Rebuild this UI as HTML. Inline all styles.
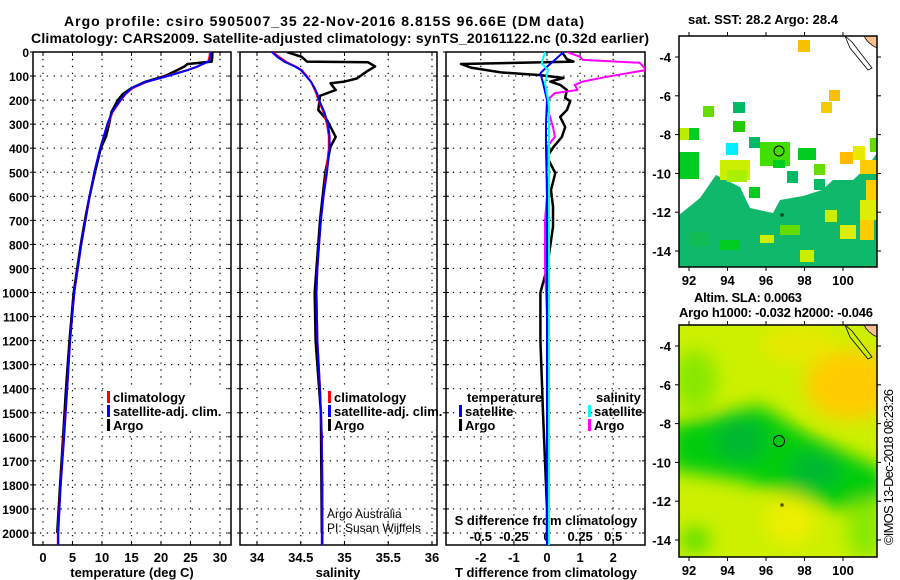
<!DOCTYPE html>
<html><head><meta charset="utf-8"><style>
html,body{margin:0;padding:0;background:#fff;}
svg{display:block;font-family:"Liberation Sans",sans-serif;}
.b{font-weight:bold;}
</style></head><body>
<svg id="chart" width="900" height="580" viewBox="0 0 900 580" xmlns="http://www.w3.org/2000/svg">
<defs>
<clipPath id="c1"><rect x="33" y="52" width="198" height="493"/></clipPath>
<clipPath id="c2"><rect x="240" y="52" width="197" height="493"/></clipPath>
<clipPath id="c3"><rect x="446" y="52" width="199" height="493"/></clipPath>
<clipPath id="cm1"><rect x="679" y="36" width="198" height="231"/></clipPath>
<clipPath id="cm2"><rect x="679" y="325" width="198" height="232"/></clipPath>
<filter id="blur" x="-50%" y="-50%" width="200%" height="200%"><feGaussianBlur stdDeviation="9"/></filter>
</defs>
<text x="324" y="26" text-anchor="middle" class="b" font-size="14" textLength="520">Argo profile: csiro 5905007_35 22-Nov-2016 8.815S 96.66E (DM data)</text>
<text x="340" y="43" text-anchor="middle" class="b" font-size="14" textLength="618">Climatology: CARS2009. Satellite-adjusted climatology: synTS_20161122.nc (0.32d earlier)</text>
<g id="plots"></g>
<g id="maps"></g>
<text transform="translate(893,545) rotate(-90)" font-size="13" textLength="156">©IMOS 13-Dec-2018 08:23:26</text>
</svg>
<script>
// ---- data ----
const depthsClim = [0,20,40,50,60,75,100,125,150,175,200,250,300,350,400,500,600,700,800,900,1000,1200,1400,1600,1800,2000,2050];
const tempClim   = [28.3,28.2,28.0,27.2,26.3,24.5,21.0,17.5,15.2,14.0,13.2,11.8,11.0,10.3,9.7,8.7,7.9,7.2,6.5,5.9,5.3,4.6,4.1,3.5,3.0,2.5,2.5];
const tempSat    = [28.5,28.4,28.1,27.0,26.2,24.6,21.2,17.3,15.0,13.9,13.1,11.7,10.9,10.3,9.7,8.7,7.9,7.2,6.5,5.9,5.3,4.6,4.1,3.6,3.0,2.6,2.6];
const depthsArgoT = [0,20,40,50,60,75,100,125,150,175,200,250,300,350,400,500,600,700,800,1000,1200,1400,1600,1800,2000];
const tempArgo   = [28.7,28.7,28.6,24.5,24.0,22.8,20.7,17.2,15.0,13.5,12.7,11.6,11.2,10.7,9.8,8.8,7.9,7.1,6.4,5.2,4.5,3.9,3.4,2.9,2.4];
const salClim    = [34.18,34.25,34.33,34.38,34.44,34.51,34.57,34.62,34.65,34.68,34.70,34.76,34.80,34.82,34.82,34.79,34.76,34.73,34.71,34.69,34.68,34.69,34.72,34.74,34.75,34.75,34.75];
const salSat     = [34.17,34.23,34.31,34.37,34.43,34.50,34.56,34.62,34.66,34.69,34.71,34.77,34.81,34.83,34.83,34.80,34.76,34.73,34.71,34.69,34.68,34.69,34.72,34.74,34.74,34.74,34.74];
const depthsArgoS = [0,20,40,43,60,80,110,123,130,158,182,241,283,353,394,500,700,1000,1200,1500,2000];
const salArgo    = [34.34,34.51,34.57,35.27,35.35,35.26,35.14,35.0,34.84,34.90,34.72,34.70,34.80,34.90,34.84,34.78,34.72,34.66,34.67,34.73,34.74];
const depthsDT = [0,30,40,50,65,85,96,108,123,137,158,191,205,241,270,312,353,394,436,503,574,643,727,900,1000,1200,1500,1900,2000];
const tDiffArgo = [0.45,0.6,0.8,-2.6,-2.3,-1.4,-0.2,0.5,0.1,0.4,0.6,0.55,0.7,0.6,0.4,0.55,0.45,0.2,0.0,0.25,0.12,0.18,0.18,0.0,-0.2,-0.2,-0.12,0.0,0.0];
const depthsDTs = [0,33,61,88,128,200,300,400,600,1000,1500,2050];
const tDiffSat  = [0.5,0.24,0,-0.2,-0.12,0,-0.03,-0.03,0,0,0,0];
const depthsDS = [0,20,33,45,75,103,123,137,158,171,200,228,312,353,394,500,700,900,1200,1500,2050];
const sDiffArgo = [0.15,0.25,0.27,0.70,0.75,0.45,0.27,0.21,0.23,0.06,0,0,0.045,0.06,0,0.015,-0.015,-0.015,0.008,0.015,0.015];
const depthsDSs = [0,47,75,128,200,228,400,1000,2050];
const sDiffSat  = [-0.015,-0.04,0.008,-0.015,0.008,0.015,0.015,0.015,0.015];
const depthTicks = [0,100,200,300,400,500,600,700,800,900,1000,1100,1200,1300,1400,1500,1600,1700,1800,1900,2000];
const tempTicks = [0,5,10,15,20,25,30];
const salTicks = [34,34.5,35,35.5,36];
const tdTicks = [-2,-1,0,1,2];
const sdTicks = [-0.5,-0.25,0,0.25,0.5];
const sdTickLabels = ["-0.5","-0.25","0","0.25","0.5"];

// ---- helpers ----
const NS="http://www.w3.org/2000/svg";
function mk(tag, attrs, parent){const e=document.createElementNS(NS,tag);for(const k in attrs)e.setAttribute(k,attrs[k]);parent.appendChild(e);return e;}
const yD = d => 52 + d*0.2405;
const xT = t => 43 + t*5.9;
const xS = s => 257 + (s-34)*87.5;
const xDT = t => 547 + t*33.1;
const xDS = s => 547 + s*4*33.1;
const G = document.getElementById('plots');

function frame(x0,x1,name,ticksX,fx){
  const g=mk('g',{},G);
  
  
  depthTicks.forEach(d=>{ if(d>0) mk('line',{x1:x0,x2:x1,y1:yD(d),y2:yD(d),stroke:'#000','stroke-width':1.2,'stroke-dasharray':'1.3,5.6'},g);
    mk('line',{x1:x0-3,x2:x0+3,y1:yD(d),y2:yD(d),stroke:'#000'},g);
    mk('line',{x1:x1-3,x2:x1,y1:yD(d),y2:yD(d),stroke:'#000'},g);});
  ticksX.forEach(t=>{const x=fx(t); mk('line',{x1:x,x2:x,y1:52,y2:545,stroke:'#000','stroke-width':1.2,'stroke-dasharray':'1.3,5.6'},g);
    mk('line',{x1:x,x2:x,y1:545,y2:541,stroke:'#000'},g); mk('line',{x1:x,x2:x,y1:52,y2:56,stroke:'#000'},g);});
  mk('rect',{x:x0,y:52,width:x1-x0,height:493,fill:'none',stroke:'#000','stroke-width':1.5},g);
  return g;
}
function line(xs,ds,fx,color,w,clip,name){
  const p=mk('polyline',{points:xs.map((v,i)=>fx(v).toFixed(1)+','+yD(ds[i]).toFixed(1)).join(' '),fill:'none',stroke:color,'stroke-width':w,'clip-path':'url(#'+clip+')','stroke-linejoin':'round'},G);
  
  
}
function txt(x,y,s,opts,name){const t=mk('text',Object.assign({x:x,y:y,'font-size':13,'font-weight':'bold'},opts||{}),G);t.textContent=s;
  
  return t;}

frame(33,231,'temperature-panel',tempTicks,xT);
frame(240,437,'salinity-panel',salTicks,xS);
frame(446,645,'difference-panel',tdTicks,xDT);
depthTicks.forEach(d=>{txt(29,yD(d)+5,String(d),{'text-anchor':'end','font-size':12},'y-tick-label');});
tempTicks.forEach(t=>{txt(xT(t),562,String(t),{'text-anchor':'middle'},'temp-x-tick-label');});
salTicks.forEach(t=>{txt(xS(t),562,String(t),{'text-anchor':'middle'},'sal-x-tick-label');});
tdTicks.forEach(t=>{txt(xDT(t),562,String(t),{'text-anchor':'middle'},'tdiff-x-tick-label');});
sdTicks.forEach((t,i)=>{txt(xDS(t),541,sdTickLabels[i],{'text-anchor':'middle'},'sdiff-tick-label');});
txt(132,577,'temperature (deg C)',{'text-anchor':'middle'},'temp-x-axis-title');
txt(338,577,'salinity',{'text-anchor':'middle'},'sal-x-axis-title');
txt(546,577,'T difference from climatology',{'text-anchor':'middle'},'tdiff-x-axis-title');
txt(546,525,'S difference from climatology',{'text-anchor':'middle'},'sdiff-axis-title');

// series
line(tempArgo,depthsArgoT,xT,'#000',2.5,'c1','temp-argo-line');
line(tempClim,depthsClim,xT,'#f00',2,'c1','temp-clim-line');
line(tempSat,depthsClim,xT,'#00f',2,'c1','temp-sat-line');
line(salArgo,depthsArgoS,xS,'#000',2.5,'c2','sal-argo-line');
line(salClim,depthsClim,xS,'#f00',2,'c2','sal-clim-line');
line(salSat,depthsClim,xS,'#00f',2,'c2','sal-sat-line');
line(tDiffArgo,depthsDT,xDT,'#000',2.5,'c3','tdiff-argo-line');
line(sDiffArgo,depthsDS,xDS,'#f0f',2,'c3','sdiff-argo-line');
line(tDiffSat,depthsDTs,xDT,'#00f',2,'c3','tdiff-sat-line');
line(sDiffSat,depthsDSs,xDS,'#0ff',2,'c3','sdiff-sat-line');

// legends
function leg(x,y,color,label,name){const r=mk('rect',{x:x,y:y-11,width:3,height:12,fill:color},G);
  
  
  const t=txt(x+6,y,label,{},name); return t;}
function legBg(x,y,w,h){mk('rect',{x:x,y:y,width:w,height:h,fill:'#fff'},G);}
legBg(106,387,118,44); legBg(326,387,110,44);
leg(107,402,'#f00','climatology','legend-temp-climatology');
leg(107,416,'#00f','satellite-adj. clim.','legend-temp-satellite');
leg(107,430,'#000','Argo','legend-temp-argo');
leg(328,402,'#f00','climatology','legend-sal-climatology');
leg(328,416,'#00f','satellite-adj. clim.','legend-sal-satellite');
leg(328,430,'#000','Argo','legend-sal-argo');
txt(467,402,'temperature',{},'legend-temperature-heading');
leg(459,416,'#00f','satellite','legend-tdiff-satellite');
leg(459,430,'#000','Argo','legend-tdiff-argo');
txt(596,402,'salinity',{},'legend-salinity-heading');
leg(588,416,'#0ff','satellite','legend-sdiff-satellite');
leg(588,430,'#f0f','Argo','legend-sdiff-argo');
txt(327,518,'Argo Australia',{'font-weight':'normal','font-size':12},'credit-argo-australia');
txt(327,532,'PI: Susan Wijffels',{'font-weight':'normal','font-size':12},'credit-pi');

// ---- maps ----
const lonTicks=[92,94,96,98,100];
const latTicks=[-4,-6,-8,-10,-12,-14];
const M=document.getElementById('maps');
const mxL = lon => 689 + (lon-92)*19.25;
function mapAxes(top,bot,lat4y,name){
  const g=mk('g',{},M);
  
  
  const myL = lat => lat4y + (-4-lat)*19.4;
  mk('rect',{x:679,y:top,width:198,height:bot-top,fill:'none',stroke:'#000','stroke-width':1.5},g);
  lonTicks.forEach(l=>{mk('line',{x1:mxL(l),x2:mxL(l),y1:top,y2:top-4,stroke:'#000'},g);mk('line',{x1:mxL(l),x2:mxL(l),y1:bot,y2:bot+4,stroke:'#000'},g);
    const t=mk('text',{x:mxL(l),y:bot+18,'text-anchor':'middle','font-size':13,'font-weight':'bold'},g);t.textContent=String(l);});
  latTicks.forEach(l=>{mk('line',{x1:679,x2:675,y1:myL(l),y2:myL(l),stroke:'#000'},g);mk('line',{x1:877,x2:881,y1:myL(l),y2:myL(l),stroke:'#000'},g);
    const t=mk('text',{x:671,y:myL(l)+5,'text-anchor':'end','font-size':13,'font-weight':'bold'},g);t.textContent=String(l);});
}
// SST map cells (image-space boxes): x,y,w,h,color
const sstCells=[[798,40,12,12,'#f8c000'],[829,90,11,11,'#f8c000'],[821,102,11,11,'#f0cc00'],[703,106,11,11,'#66dd00'],[733,102,12,11,'#00bb66'],[733,121,12,11,'#22cc00'],[679,128,14,12,'#bbee00'],[689,128,10,12,'#00cc22'],[726,143,12,12,'#00eeff'],[749,137,11,11,'#00bb66'],[760,142,30,24,'#44dd00'],[773,160,12,8,'#00cc22'],[798,148,18,12,'#00cc22'],[840,152,13,12,'#ffbb00'],[853,146,12,14,'#e8e800'],[860,160,17,14,'#ffcc00'],[679,152,20,27,'#00cc22'],[720,160,30,20,'#ccee00'],[727,170,20,12,'#aaee00'],[787,171,11,12,'#00bb66'],[814,164,11,11,'#66dd00'],[814,179,11,11,'#00bb66'],[749,187,11,11,'#00cc22'],[866,180,11,25,'#ffcc00'],[860,200,17,20,'#ddee00'],[870,138,7,14,'#66dd00']];
const sstBand=[[679,215],[700,198],[716,175],[740,187],[750,208],[773,213],[780,200],[803,196],[822,190],[833,180],[853,180],[867,167],[877,153],[877,267],[679,267]];
const sstBlobs=[[780,225,20,10,'#66dd00'],[760,235,14,8,'#ccee00'],[720,240,20,10,'#00cc22'],[840,225,16,14,'#ddee00'],[860,220,14,20,'#ffcc00'],[800,250,14,12,'#ccee00'],[690,232,20,14,'#11bb55'],[825,210,12,12,'#ccee00']];
const g1=mk('g',{'clip-path':'url(#cm1)'},M);


mk('polygon',{points:sstBand.map(p=>p.join(',')).join(' '),fill:'#0fb86a'},g1);
sstBlobs.forEach(b=>{mk('rect',{x:b[0],y:b[1],width:b[2],height:b[3],fill:b[4]},g1);});
sstCells.forEach(c=>{mk('rect',{x:c[0],y:c[1],width:c[2],height:c[3],fill:c[4]},g1);});
mk('path',{d:'M864,36 L877,36 L877,48 Q868,44 864,36Z',fill:'#f8c090',stroke:'#000','stroke-width':0.8},g1);
mk('path',{d:'M845,36 L852,42 L872,68 L868,70 L850,48Z',fill:'#fff',stroke:'#000','stroke-width':0.8},g1);
mk('circle',{cx:779,cy:151,r:5,fill:'none',stroke:'#000','stroke-width':1},g1);
mk('rect',{x:781,y:214,width:2,height:2,fill:'none',stroke:'#000','stroke-width':0.8},g1);
mapAxes(36,267,57,'sst-map');

// SLA map
const g2=mk('g',{'clip-path':'url(#cm2)'},M);


mk('rect',{x:679,y:325,width:198,height:232,fill:'#ccf000'},g2);
const gb=mk('g',{filter:'url(#blur)'},g2);
mk('ellipse',{cx:850,cy:385,rx:45,ry:35,fill:'#ffcc00'},gb);
mk('ellipse',{cx:800,cy:345,rx:40,ry:18,fill:'#e8e800'},gb);
mk('ellipse',{cx:695,cy:380,rx:22,ry:30,fill:'#88e800'},gb);
mk('polygon',{points:'670,425 720,415 760,405 800,430 840,450 885,470 885,500 840,510 790,495 740,480 690,472 670,470',fill:'#00cc11'},gb);
mk('ellipse',{cx:740,cy:440,rx:25,ry:22,fill:'#00b833'},gb);
mk('ellipse',{cx:815,cy:470,rx:25,ry:18,fill:'#00b833'},gb);
mk('ellipse',{cx:790,cy:520,rx:25,ry:25,fill:'#eeee00'},gb);
mk('ellipse',{cx:695,cy:540,rx:15,ry:12,fill:'#55dd00'},gb);
mk('ellipse',{cx:865,cy:530,rx:18,ry:30,fill:'#88e800'},gb);
mk('path',{d:'M864,325 L877,325 L877,337 Q868,333 864,325Z',fill:'#f8c090',stroke:'#000','stroke-width':0.8},g2);
mk('path',{d:'M845,325 L852,331 L872,357 L868,359 L850,337Z',fill:'#ccf000',stroke:'#000','stroke-width':0.8},g2);
mk('circle',{cx:779,cy:441,r:5.5,fill:'none',stroke:'#000','stroke-width':1},g2);
mk('rect',{x:781,y:504,width:2,height:2,fill:'none',stroke:'#000','stroke-width':0.8},g2);
mapAxes(325,557,346,'sla-map');

function mt(x,y,s,anchor,name,len){const t=mk('text',{x:x,y:y,'text-anchor':anchor,'font-size':13,'font-weight':'bold'},M);if(len)t.setAttribute('textLength',len);t.textContent=s;
  
  }
mt(763,24,'sat. SST: 28.2 Argo: 28.4','middle','sst-map-title',150);
mt(694,302,'Altim. SLA: 0.0063','start','sla-value',108);
mt(679,317,'Argo h1000: -0.032 h2000: -0.046','start','argo-height-values',194);
</script>
</body></html>
